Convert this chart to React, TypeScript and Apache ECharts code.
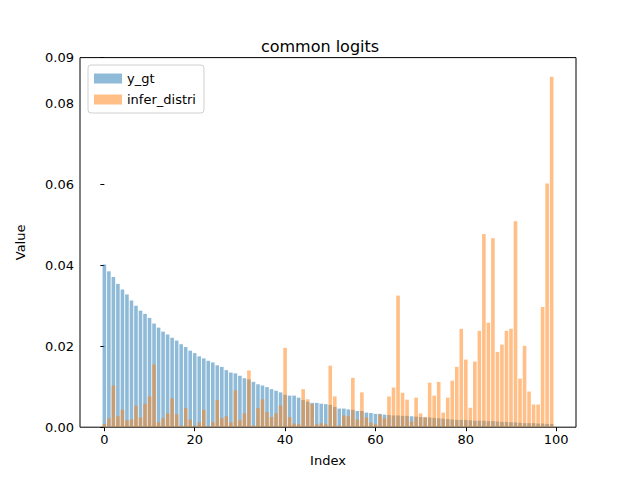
import { useEffect, useRef } from "react";
import * as echarts from "echarts";

const yGt = [
  0.0402, 0.0385, 0.0371, 0.0354, 0.034, 0.0328, 0.0313, 0.03, 0.0288, 0.028,
  0.027, 0.0256, 0.0246, 0.0236, 0.0229, 0.0221, 0.0214, 0.0205, 0.0198, 0.0189,
  0.0183, 0.0175, 0.017, 0.0164, 0.016, 0.0153, 0.0149, 0.0141, 0.0135, 0.0133,
  0.0127, 0.0121, 0.0118, 0.0112, 0.0106, 0.0103, 0.0099, 0.0094, 0.009, 0.0086,
  0.008, 0.0078, 0.0078, 0.0073, 0.0067, 0.0063, 0.006, 0.006, 0.0058, 0.0057,
  0.0055, 0.005, 0.0046, 0.0046, 0.0044, 0.0043, 0.004, 0.004, 0.0036, 0.0035,
  0.0033, 0.0033, 0.0031, 0.003, 0.0029, 0.0029, 0.0028, 0.0028, 0.0027, 0.0026,
  0.0025, 0.0024, 0.0024, 0.0023, 0.0022, 0.0021, 0.002, 0.0019, 0.0018, 0.0018,
  0.0018, 0.0017, 0.0016, 0.0016, 0.0016, 0.0015, 0.0015, 0.0014, 0.0013, 0.0013,
  0.0012, 0.0012, 0.0011, 0.001, 0.001, 0.001, 0.0009, 0.0009, 0.0008, 0.0008,
];

const inferDistri = [
  0.0008, 0.0022, 0.0103, 0.0027, 0.0043, 0.0017, 0.0019, 0.0053, 0.0024, 0.0058,
  0.0076, 0.0155, 0.0012, 0.0022, 0.0034, 0.0071, 0.0032, 0.0004, 0.0047, 0.0019,
  0.0004, 0.0012, 0.0043, 0.0002, 0.0012, 0.0067, 0.0022, 0.0027, 0.0012, 0.0091,
  0.0017, 0.0034, 0.014, 0.0004, 0.0047, 0.0069, 0.0037, 0.0025, 0.0034, 0.0053,
  0.0196, 0.0025, 0.0009, 0.0007, 0.0094, 0.0069, 0.0057, 0.0007, 0.001, 0.0007,
  0.0152, 0.0076, 0.0004, 0.0029, 0.0027, 0.0122, 0.0019, 0.0086, 0.0024, 0.0011,
  0.0007, 0.0031, 0.0022, 0.0076, 0.0098, 0.0325, 0.0085, 0.0068, 0.0014, 0.0073,
  0.0034, 0.0025, 0.011, 0.0078, 0.0112, 0.0036, 0.0073, 0.0115, 0.0149, 0.0243,
  0.0167, 0.0048, 0.0162, 0.0238, 0.0477, 0.0258, 0.0467, 0.0186, 0.0204, 0.0238,
  0.0243, 0.0509, 0.012, 0.0201, 0.0088, 0.0056, 0.0056, 0.0297, 0.0602, 0.0866,
];

const xTicks = [0, 20, 40, 60, 80, 100];

const App = () => {
  const chartRef = useRef<HTMLDivElement>(null);

  useEffect(() => {
    const chart = echarts.init(chartRef.current!, null, { renderer: "svg" });
    const font = "DejaVu Sans";
    const option: echarts.EChartsOption = {
      animation: false,
      textStyle: { fontFamily: font },
      title: {
        text: "common logits",
        left: "center",
        top: 33,
        textStyle: { fontSize: 16, fontWeight: "normal", color: "#000", fontFamily: font },
      },
      legend: {
        orient: "vertical",
        left: 88,
        top: 65,
        icon: "rect",
        itemWidth: 28,
        itemHeight: 10,
        itemGap: 8,
        padding: [7, 8, 7, 6],
        backgroundColor: "#fff",
        borderColor: "#d0d0d0",
        borderWidth: 1,
        borderRadius: 3,
        textStyle: { fontSize: 13, color: "#000", fontFamily: font },
        data: ["y_gt", "infer_distri"],
      },
      grid: {
        left: 80,
        right: 64,
        top: 57.6,
        bottom: 52.8,
        show: true,
        borderColor: "#000",
        borderWidth: 1,
        backgroundColor: "transparent",
      },
      xAxis: {
        type: "value",
        min: -5.39,
        max: 104.39,
        name: "Index",
        nameLocation: "middle",
        nameGap: 27,
        nameTextStyle: { fontSize: 13, color: "#000" },
        splitLine: { show: false },
        axisLine: { show: false },
        axisTick: { show: true, inside: false, length: 4, customValues: xTicks, lineStyle: { color: "#000" } },
        axisLabel: { fontSize: 13, color: "#000", margin: 6, customValues: xTicks },
      },
      yAxis: {
        type: "value",
        min: 0,
        max: 0.0913,
        interval: 0.02,
        name: "Value",
        nameLocation: "middle",
        nameGap: 53,
        nameTextStyle: { fontSize: 13, color: "#000" },
        splitLine: { show: false },
        axisLine: { show: false },
        axisTick: { show: true, length: 4, lineStyle: { color: "#000" } },
        axisLabel: { fontSize: 13, color: "#000", margin: 6, formatter: (v: number) => v.toFixed(2) },
      },
      series: [
        {
          name: "y_gt",
          type: "bar",
          barWidth: 3.6,
          barGap: "-100%",
          itemStyle: { color: "#1f77b4", opacity: 0.5 },
          data: yGt.map((v, i) => [i, v]),
        },
        {
          name: "infer_distri",
          type: "bar",
          barWidth: 3.6,
          barGap: "-100%",
          itemStyle: { color: "#ff7f0e", opacity: 0.5 },
          data: inferDistri.map((v, i) => [i, v]),
        },
      ],
    };
    chart.setOption(option);
    return () => chart.dispose();
  }, []);

  return <div ref={chartRef} style={{ width: 640, height: 480, margin: -8 }} />;
};

export default App;
